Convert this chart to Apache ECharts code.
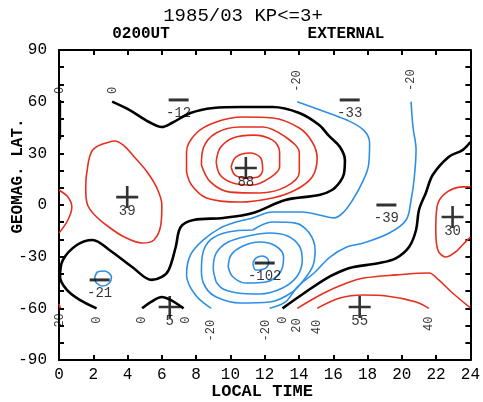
<!DOCTYPE html>
<html><head><meta charset="utf-8">
<script src="https://cdn.jsdelivr.net/npm/echarts@6/dist/echarts.min.js"></script>
<style>html,body{margin:0;padding:0;background:#fff}#c{width:483px;height:402px}</style>
</head><body><div id="c"></div>
<script>
// ---- data (local time [h], geomagnetic latitude [deg]) ----
const xTicks = [0,2,4,6,8,10,12,14,16,18,20,22,24];
const yTickLabels = [-90,-60,-30,0,30,60,90];

// zero contours (black)
const zero1 = [[3.1,60],[4.1,55.2],[5.25,48.2],[6.0,45.3],[6.58,47.6],[7.67,53.4],[9.0,56.3],[10.56,56.9],[12.46,56.9],[14.02,53.4],[15.18,46.4],[15.75,40.1],[16.39,33.7],[16.68,26.1],[16.62,18],[16.4,13.5],[15.93,8.7],[15.18,5.8],[13.21,2.9],[11.31,-4.6],[9.58,-7.5],[7.85,-8.7],[7.1,-12.8],[6.81,-24.4],[6.4,-37.7],[6.0,-41.8],[5.42,-43.5],[4.27,-36.0],[2.94,-26.1],[1.96,-20.3],[1.04,-23.2],[0.23,-31.9],[0.06,-41.8],[0.46,-49.3],[1.21,-55.1],[2.19,-60]];
const zero2 = [[0.05,61],[0.05,38]];
const zero3 = [[4.85,-60],[5.37,-56.3],[6.0,-53.4],[6.4,-54.6],[6.81,-56.9],[7.27,-60]];
const zero4 = [[13.04,-60],[14.31,-51.1],[15.63,-42.4],[16.62,-37.7],[17.19,-36.0],[18.69,-33.7],[19.67,-30.8],[20.42,-24.4],[20.83,-14.5],[21.0,-2.9],[21.4,7.0],[21.8,17.4],[22.73,27.9],[23.54,31.9],[24,36.6]];

// positive contours (red)
const pos20left = [[0,8.7],[0.52,4.6],[0.75,-1.2],[0.52,-8.7],[0,-16.3]];
const pos20corner = [[0,-57.5],[0.08,-60]];
const pos20max39 = [[2.94,36.6],[1.96,31.9],[1.62,18.6],[1.56,8.7],[1.67,0],[2.08,-5.8],[2.83,-12.2],[3.81,-18.6],[4.85,-22.1],[5.54,-20.3],[5.94,-11.6],[6.0,0],[5.71,9.9],[5.14,19.2],[4.39,27.9],[3.75,34.8],[3.23,37.2],[2.94,36.6]];
const pos80 = [[10.04,22.1],[10.33,27.9],[11.13,30.2],[11.77,27.3],[11.88,20.3],[11.6,16.3],[10.9,15.7],[10.27,17.4],[10.04,22.1]];
const pos60 = [[9.17,25.0],[9.4,33.1],[10.15,38.9],[11.31,40.6],[12.46,37.7],[12.87,30.8],[12.87,22.1],[12.29,15.7],[11.31,11.6],[10.15,12.8],[9.4,17.4],[9.17,25.0]];
const pos40 = [[8.31,23.2],[8.42,33.1],[9.17,41.8],[10.56,45.3],[11.88,45.3],[13.21,39.5],[14.02,30.2],[14.02,19.2],[13.21,10.5],[11.71,7.0],[9.98,7.5],[8.83,13.4],[8.31,23.2]];
const pos20 = [[7.44,19.2],[7.44,30.8],[8.02,41.8],[9.17,48.2],[10.73,51.1],[12.46,50.5],[14.02,44.7],[14.77,36.6],[15.06,27.3],[14.77,16.3],[13.79,8.7],[12.46,4.1],[10.56,1.7],[8.6,4.1],[7.73,11.6],[7.44,19.2]];
const pos20right = [[24,10.5],[23.54,10.5],[22.5,6.5],[22.05,-1.2],[21.98,-14.5],[22.1,-26.1],[22.56,-30.2],[23.13,-27.3],[23.54,-23.2],[24,-18.6]];
const pos20low = [[13.9,-60],[15.46,-51.1],[16.79,-45.3],[17.77,-42.4],[19.67,-40.6],[21.58,-39.5],[22.15,-43.5],[22.96,-51.1],[24,-59.8]];
const pos40low = [[15.06,-60],[16.39,-54],[17.77,-52.3],[19.1,-52.8],[20.83,-56.3],[21.58,-60]];

// negative contours (blue)
const neg20small = [[2.08,-42.4],[2.25,-38.9],[2.65,-38.3],[3.06,-41.8],[2.94,-45.3],[2.54,-47.0],[2.19,-45.3],[2.08,-42.4]];
const neg20a = [[13.9,60],[15.23,55.2],[16.79,49.3],[17.77,43.5],[18.12,36.0],[18.06,23.2],[17.71,13.4],[17.13,2.9],[16.56,-4.6],[16.04,-7.5],[15.18,-5.8],[14.19,-4.1],[12.46,-4.1],[11.31,-7.5],[10.33,-9.9],[9.4,-13.4],[8.42,-20.3],[7.67,-29.0],[7.44,-40.6],[7.96,-52.3],[8.88,-60]];
const neg20b = [[20.54,60],[20.65,45.3],[20.83,31.9],[20.71,14.5],[20.54,2.9],[20.25,-8.7],[19.27,-16.3],[17.77,-22.1],[16.79,-24.4],[15.81,-30.2],[14.88,-39.5],[13.9,-47.6],[13.21,-56.3],[12.29,-60]];
const neg40 = [[11.31,-14.5],[12.46,-9.9],[13.79,-10.5],[14.6,-16.3],[14.94,-26.1],[14.83,-34.8],[14.37,-42.4],[13.62,-50.5],[12.29,-56.3],[10.56,-56.9],[9.17,-53.4],[8.54,-47.6],[8.31,-38.9],[8.37,-29.0],[8.83,-20.3],[9.87,-15.7],[11.31,-14.5]];
const neg60 = [[9.17,-44.7],[9.0,-36.6],[9.17,-27.9],[9.87,-21.5],[11.02,-18.0],[12.29,-16.3],[13.33,-18.0],[14.02,-23.8],[14.19,-31.9],[13.9,-41.2],[13.04,-48.2],[11.71,-51.7],[10.44,-51.1],[9.58,-48.8],[9.17,-44.7]];
const neg80 = [[9.87,-36.0],[10.04,-29.0],[10.73,-23.8],[11.71,-21.5],[12.64,-23.8],[13.1,-30.2],[12.92,-38.9],[12.06,-44.7],[10.9,-45.3],[10.15,-41.8],[9.87,-36.0]];
const neg100 = [[11.31,-33.7],[11.48,-30.8],[11.88,-29.6],[12.23,-32.5],[12.06,-36.6],[11.48,-37.7],[11.31,-33.7]];

// extrema: [LT, lat, value]
const maxima = [[10.9,21.5,'88'],[3.98,4.6,'39'],[22.96,-7.0,'30'],[17.54,-59.2,'55'],[6.46,-59.2,'5']];
const minima = [[6.98,61,'-12'],[16.96,61,'-33'],[19.1,0,'-39'],[2.37,-43.5,'-21'],[12.0,-33.7,'-102']];

// contour level labels: [LT, lat, text]
const levelLabels = [[0.06,66.5,'0'],[3.12,66.5,'0'],[13.9,72,'-20'],[20.54,72.5,'-20'],
  [0.06,-67,'20'],[2.19,-66.8,'0'],[4.85,-66.8,'0'],[7.38,-66.8,'0'],[8.88,-73,'-20'],[12.06,-73,'-20'],
  [13.04,-66.8,'0'],[13.9,-70,'20'],[15.06,-70.8,'40'],[21.58,-69,'40']];

const BLACK = '#000000', RED = '#e5301f', BLUE = '#2f8fe6';
const FONT = 'Liberation Mono';

const series = [];
function addLines(list, color, width) {
  list.forEach(d => series.push({
    type: 'line', data: d, smooth: 0.35, showSymbol: false, silent: true,
    lineStyle: {color: color, width: width}, z: 3
  }));
}
addLines([zero1, zero2, zero3, zero4], BLACK, 2.6);
addLines([pos20left, pos20corner, pos20max39, pos80, pos60, pos40, pos20, pos20right, pos20low, pos40low], RED, 1.6);
addLines([neg20small, neg20a, neg20b, neg40, neg60, neg80, neg100], BLUE, 1.6);

series.push({
  type: 'scatter', data: maxima.map(m => [m[0], m[1], m[2]]), z: 5,
  symbol: 'path://M9.7,0H12.3V9.7H22V12.3H12.3V22H9.7V12.3H0V9.7H9.7Z', symbolSize: 22,
  itemStyle: {color: BLACK},
  label: {show: true, position: 'inside', offset: [0, 14], formatter: p => p.value[2],
    color: BLACK, fontFamily: FONT, fontSize: 14}
});
series.push({
  type: 'scatter', data: minima.map(m => [m[0], m[1], m[2]]), z: 5,
  symbol: 'rect', symbolSize: [20, 3], itemStyle: {color: BLACK},
  label: {show: true, position: 'inside', offset: [0, 13], formatter: p => p.value[2],
    color: BLACK, fontFamily: FONT, fontSize: 14}
});
series.push({
  type: 'scatter', data: levelLabels.map(m => [m[0], m[1], m[2]]), z: 5,
  symbolSize: 0, itemStyle: {color: 'transparent'},
  label: {show: true, position: 'inside', rotate: 90, formatter: p => p.value[2],
    color: BLACK, fontFamily: FONT, fontSize: 12}
});

const axisLine = {show: true, onZero: false, lineStyle: {color: BLACK, width: 2}};
const tick = {inside: true, length: 5, lineStyle: {color: BLACK, width: 2}};
const chart = echarts.init(document.getElementById('c'));
chart.setOption({
  animation: false,
  backgroundColor: '#fff',
  grid: {left: 59, right: 8, top: 50, bottom: 42},
  xAxis: [
    {type: 'value', min: 0, max: 24, interval: 2, position: 'bottom',
     axisLine: axisLine, splitLine: {show: false}, axisTick: tick,
     axisLabel: {color: BLACK, fontFamily: FONT, fontSize: 16, margin: 7,
       formatter: v => xTicks.indexOf(v) >= 0 ? String(v) : ''}},
    {type: 'value', min: 0, max: 24, interval: 2, position: 'top',
     axisLine: axisLine, splitLine: {show: false}, axisTick: tick,
     axisLabel: {show: false}}
  ],
  yAxis: [
    {type: 'value', min: -90, max: 90, interval: 10, position: 'left',
     axisLine: axisLine, splitLine: {show: false}, axisTick: tick,
     axisLabel: {color: BLACK, fontFamily: FONT, fontSize: 16, margin: 12,
       formatter: v => yTickLabels.indexOf(v) >= 0 ? String(v) : ''}},
    {type: 'value', min: -90, max: 90, interval: 10, position: 'right',
     axisLine: axisLine, splitLine: {show: false}, axisTick: tick,
     axisLabel: {show: false}}
  ],
  graphic: [
    {type: 'text', x: 243, y: 16, style: {text: '1985/03 KP<=3+', fill: BLACK,
      font: '19px "Liberation Mono"', textAlign: 'center', textVerticalAlign: 'middle'}},
    {type: 'text', x: 141, y: 34, style: {text: '0200UT', fill: BLACK,
      font: 'bold 16px "Liberation Mono"', textAlign: 'center', textVerticalAlign: 'middle'}},
    {type: 'text', x: 346, y: 34, style: {text: 'EXTERNAL', fill: BLACK,
      font: 'bold 16px "Liberation Mono"', textAlign: 'center', textVerticalAlign: 'middle'}},
    {type: 'text', x: 18, y: 176, rotation: Math.PI / 2, style: {text: 'GEOMAG. LAT.', fill: BLACK,
      font: 'bold 16px "Liberation Mono"', textAlign: 'center', textVerticalAlign: 'middle'}},
    {type: 'text', x: 262, y: 392, style: {text: 'LOCAL TIME', fill: BLACK,
      font: 'bold 17px "Liberation Mono"', textAlign: 'center', textVerticalAlign: 'middle'}}
  ],
  series: series
});
</script>
</body></html>
